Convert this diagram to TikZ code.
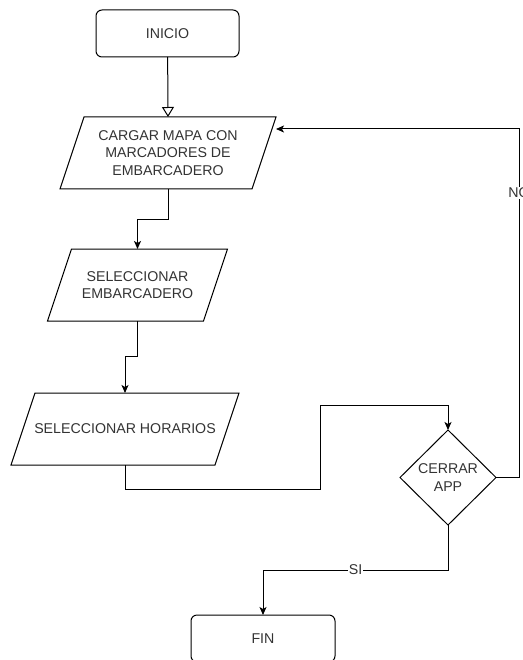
\documentclass[tikz,border=0pt]{standalone}
\usepackage{fontspec}
\setmainfont{Liberation Sans}
\usetikzlibrary{shapes,shapes.geometric,arrows.meta,calc,positioning}
\definecolor{txtgray}{HTML}{333333}
\tikzset{term/.style={draw, rectangle, rounded corners=6pt, minimum width=143pt, minimum height=47pt, inner sep=0pt, outer sep=0pt}}
\tikzstyle{io}=[rectangle, minimum height=72pt, inner sep=0pt, outer sep=0pt, align=center,
  append after command={\pgfextra{\let\iobox\tikzlastnode
    \draw ([xshift=24pt]\iobox.north west) -- (\iobox.north east) -- ([xshift=-24pt]\iobox.south east) -- (\iobox.south west) -- cycle;}}]
\tikzstyle{dec}=[draw, diamond, minimum width=96pt, minimum height=95pt, inner sep=0pt, outer sep=0pt, align=center]

\begin{document}
\begin{tikzpicture}[x=1pt, y=-1pt, >={Stealth[length=8pt,width=7pt,inset=2pt]}, line width=1pt, font=\fontsize{14.2}{17.5}\selectfont, text=txtgray]
\useasboundingbox (0,0) rectangle (522,660);
\node[term] (inicio) at (167.5,33.5) {INICIO};
\node[io, minimum width=216pt] (cargar) at (168,153) {CARGAR MAPA CON\\MARCADORES DE\\EMBARCADERO};
\node[io, minimum width=180pt] (selemb) at (137.5,285) {SELECCIONAR\\EMBARCADERO};
\node[io, minimum width=228pt] (horarios) at (125,429) {SELECCIONAR HORARIOS};
\node[dec] (cerrar) at (448,477.5) {CERRAR\\APP};
\node[term, minimum width=144pt] (fin) at (263,638.5) {FIN};

\coordinate (k1) at (320,405);
\coordinate (k2) at (519,129);

\draw[-{Triangle[open,length=10pt,width=12pt]}] (inicio) -- (cargar.north);
\draw[->] (cargar.south) -- ++(0,30) -| (selemb.north);
\draw[->] (selemb.south) -- ++(0,35) -| (horarios.north);
\draw[->] (horarios.south) -- ++(0,24) -| (k1) -| (cerrar.north);
\draw[->] (cerrar.east) -| (k2) -- ([yshift=-12pt]cargar.north east);
\draw[->] (cerrar.south) -- ++(0,45) -| node[pos=0.25, fill=white, inner sep=1pt] (si) {SI} (fin.north);
\node[fill=white, inner sep=1pt] (no) at (519,193) {NO};
\end{tikzpicture}
\end{document}
